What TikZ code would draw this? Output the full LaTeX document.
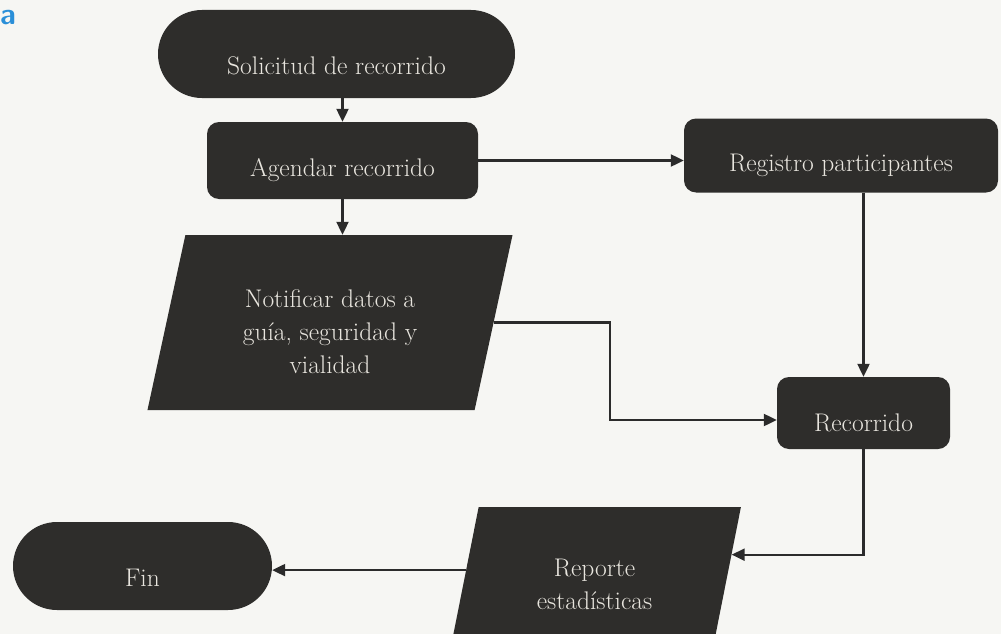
\documentclass[tikz,border=0pt]{standalone}
\usetikzlibrary{shapes.geometric,arrows.meta,calc}

\definecolor{paper}{HTML}{F6F6F3}
\definecolor{boxfill}{HTML}{2E2D2B}
\definecolor{boxtext}{HTML}{E8E5DE}
\definecolor{wire}{HTML}{2B2B2B}
\definecolor{tagblue}{HTML}{2A8FD8}

% lower the printed text inside a node without changing its box
\newcommand{\dropby}[2]{\raisebox{-#1}[\height][\depth]{#2}}
\newcommand{\stack}[1]{\begin{tabular}{@{}c@{}}#1\end{tabular}}

\tikzset{
  flowbase/.style={fill=boxfill, draw=none, text=boxtext, inner sep=0pt,
    font=\fontsize{25.5}{33}\selectfont},
  terminal/.style={flowbase, rectangle, rounded corners=44pt,
    minimum height=88pt},
  process/.style={flowbase, rectangle, rounded corners=12pt},
  iobox/.style={flowbase, trapezium, trapezium left angle=77,
    trapezium right angle=103, trapezium stretches=true},
  flow/.style={draw=wire, line width=2.2pt,
    -{Triangle[length=13pt,width=12pt]}},
}

\begin{document}
\begin{tikzpicture}[x=1pt,y=-1pt]
  \useasboundingbox (0,0) rectangle (1001,634);
  \fill[paper] (0,0) rectangle (1001,634);
  \clip (0,0) rectangle (1001,634);

  % caption fragment in the corner
  \node[anchor=base west, inner sep=0pt, text=tagblue,
        font=\sffamily\bfseries\fontsize{30}{30}\selectfont] (tag) at (0,25) {a};

  % boxes
  \node[terminal, minimum width=357pt] (sol) at (336.5,54)
    {\dropby{12pt}{Solicitud de recorrido}};
  \node[process, minimum width=271pt, minimum height=77pt] (age) at (342.5,160.5)
    {\dropby{10pt}{Agendar recorrido}};
  \node[process, minimum width=314pt, minimum height=74pt] (reg) at (841,155.5)
    {\dropby{10pt}{Registro participantes}};
  \node[iobox, minimum width=366pt, minimum height=175pt] (not) at (330,322.5)
    {\dropby{11pt}{\stack{Notificar datos a\\ guía, seguridad y\\ vialidad}}};
  \node[process, minimum width=173pt, minimum height=72pt] (rec) at (863.5,413)
    {\dropby{10pt}{Recorrido}};
  \node[iobox, minimum width=293pt, minimum height=154pt] (rep) at (594.5,584)
    {\dropby{2pt}{\stack{Reporte\\ estadísticas}}};
  \node[terminal, minimum width=259pt] (fin) at (142.5,566)
    {\dropby{12pt}{Fin}};

  % helper points for the connectors
  \coordinate (bend) at (610,420);
  \coordinate (repin) at ($(rep.top right corner)!0.31!(rep.bottom right corner)$);
  \coordinate (repout) at ($(rep.top left corner)!0.41!(rep.bottom left corner)$);

  % connectors
  \draw[flow] (sol.south -| age.north) -- (age.north);
  \draw[flow] (age.east) -- (reg.west |- age.east);
  \draw[flow] (age.south) -- (age.south |- not.north);
  \draw[flow] (not.east) -| (bend) -- (rec.west |- bend);
  \draw[flow] (reg.south -| rec.north) -- (rec.north);
  \draw[flow] (rec.south) |- (repin);
  \draw[flow] (repout) -- (fin.east |- repout);
\end{tikzpicture}
\end{document}
